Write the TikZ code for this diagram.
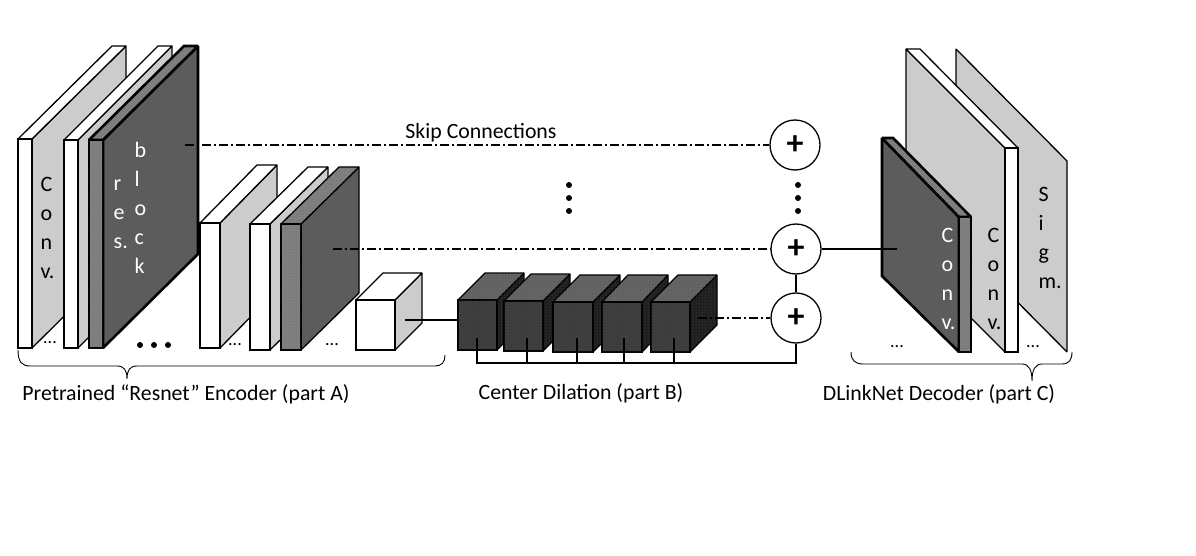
\documentclass[tikz,border=0pt]{standalone}
\usepackage{fontspec}
\setmainfont{Carlito}
\usetikzlibrary{patterns}

\definecolor{lightface}{HTML}{CCCCCC}
\definecolor{midface}{HTML}{808080}
\definecolor{darkface}{HTML}{5C5C5C}
\definecolor{cubeface}{HTML}{3C3C3C}
\definecolor{cubefleck}{HTML}{585858}

\tikzset{
	whiteface/.style={draw=black, fill=white},
	greyface/.style={draw=black, fill=lightface},
	midtone/.style={draw=black, fill=midface, postaction={pattern=dots, pattern color=darkface!70!midface}},
	darktone/.style={draw=black, fill=darkface},
	cubefront/.style={draw=black, fill=cubeface, postaction={pattern=dots, pattern color=cubefleck}},
	cubetop/.style={draw=black, fill=darkface!85!midface, postaction={pattern=dots, pattern color=midface}},
	cubeside/.style={draw=black, fill=cubeface!50!black, postaction={pattern=dots, pattern color=cubefleck}},
	sumnode/.style={circle, draw=black, fill=white, minimum size=50pt, inner sep=0pt, font=\fontsize{34}{34}\selectfont\bfseries},
	skipline/.style={line width=1.3pt, dash pattern=on 9pt off 3pt on 2pt off 3pt},
	label/.style={font=\fontsize{21.8}{24}\selectfont},
	letters/.style={align=left, anchor=west, inner sep=0pt, font=\fontsize{22}{29}\selectfont},
	tinydots/.style={font=\fontsize{18}{18}\selectfont}
}

% front x1 x2, ytop, ybot, back right corner, then the three faces
\newcommand{\layer}[9]{
	\pgfmathsetmacro{\bl}{#5-(#2-#1)}
	\pgfmathsetmacro{\bb}{#4+#6-#3}
	\draw[#9, miter limit=2] (#2,#3) -- (#5,#6) -- (#5,\bb) -- (#2,#4) -- cycle;
	\draw[#8, miter limit=2] (#1,#3) -- (\bl,#6) -- (#5,#6) -- (#2,#3) -- cycle;
	\draw[#7, miter limit=2] (#1,#3) rectangle (#2,#4);
}

\begin{document}
\begin{tikzpicture}[x=1pt, y=-1pt, line width=1.3pt]

	\useasboundingbox (0,0) rectangle (1196,556);

	% part A
	\layer{18}{32}{139}{348}{126}{46}{whiteface}{whiteface}{greyface}
	\layer{64}{78}{140}{348}{172}{46}{whiteface}{whiteface}{greyface}
	\begin{scope}[line width=2.6pt]
		\layer{89}{103}{140}{348}{198}{46}{midtone}{midtone}{darktone}
	\end{scope}
	\layer{200}{220}{223}{348}{277}{165}{whiteface}{whiteface}{greyface}
	\layer{250}{270}{224}{350}{328}{167}{whiteface}{whiteface}{greyface}
	\layer{281}{301}{224}{350}{359}{167}{midtone}{midtone}{darktone}
	\layer{356}{395}{300}{350}{422}{273}{whiteface}{whiteface}{greyface}

	% part B
	\layer{458}{497}{300}{350}{524}{273}{cubefront}{cubetop}{cubeside}
	\layer{504}{543}{301}{351}{570}{274}{cubefront}{cubetop}{cubeside}
	\layer{553}{593}{302}{352}{620}{275}{cubefront}{cubetop}{cubeside}
	\layer{602}{642}{302}{352}{668}{275}{cubefront}{cubetop}{cubeside}
	\layer{651}{690}{302}{352}{717}{275}{cubefront}{cubetop}{cubeside}

	% part C
	\draw[greyface, miter limit=2] (956,49) -- (1067,161) -- (1067,352) -- (956,240) -- cycle;
	\draw[greyface, miter limit=2] (906,49) -- (1005,148) -- (1005,352) -- (906,253) -- cycle;
	\draw[whiteface, miter limit=2] (906,49) -- (920,49) -- (1018,148) -- (1005,148) -- cycle;
	\draw[whiteface] (1005,148) rectangle (1018,352);
	\begin{scope}[line width=2.6pt]
		\draw[darktone, miter limit=2] (882,138) -- (959,217) -- (959,352) -- (882,276) -- cycle;
		\draw[midtone, miter limit=2] (882,138) -- (893,138) -- (971,217) -- (959,217) -- cycle;
		\draw[midtone] (959,217) rectangle (971,352);
	\end{scope}

	\node[sumnode] (sumA) at (795,145) {\raisebox{-4.5pt}{+}};
	\node[sumnode] (sumB) at (796,249) {\raisebox{-4.5pt}{+}};
	\node[sumnode] (sumC) at (796,318) {\raisebox{-4.5pt}{+}};

	\coordinate (skipA) at (185,145);
	\coordinate (skipB) at (333,249);
	\coordinate (skipC) at (698,318);
	\coordinate (whitecube) at (405,320);
	\coordinate (dilA) at (458,320);
	\coordinate (outconv) at (897,249);
	\coordinate (busend) at (477,363);
	\coordinate (tapA) at (477,338);
	\coordinate (tapB) at (527,338);
	\coordinate (tapC) at (577,338);
	\coordinate (tapD) at (624,338);
	\coordinate (tapE) at (674,338);

	\draw[skipline] (skipA) -- (sumA);
	\draw[skipline] (skipB) -- (sumB);
	\draw[skipline] (skipC) -- (sumC);
	\draw (whitecube) -- (dilA);
	\draw (sumB) -- (outconv);
	\draw (sumB) -- (sumC);
	\draw (sumC) |- (busend) -- (tapA);
	\foreach \t in {tapB, tapC, tapD, tapE}
		\draw (\t) -- (\t |- busend);

	\foreach \y in {185, 198, 211} {
		\fill[black] (569,\y) circle(3);
		\fill[black] (798,\y) circle(3);
	}
	\foreach \x in {140, 154, 168}
		\fill[black] (\x,345) circle(3);

	% braces
	\draw[line width=0.9pt] (18,350) .. controls (18,362) and (22,366) .. (30,366) -- (117,366) .. controls (124,366) and (127,370) .. (127,379) .. controls (127,370) and (130,366) .. (137,366) -- (435,366) .. controls (442,366) and (445,362) .. (445,355);
	\draw[line width=0.9pt] (851,352) .. controls (851,360) and (855,364) .. (863,364) -- (1022,364) .. controls (1029,364) and (1032,370) .. (1032,381) .. controls (1032,370) and (1035,364) .. (1042,364) -- (1062,364) .. controls (1069,364) and (1072,360) .. (1072,352);

	\node[letters] (convA) at (40,228) {C\\o\\n\\v.};
	\node[letters, text=white] (resA) at (113,214) {r\\e\\s.};
	\node[letters, text=white] (blockA) at (134,208) {b\\l\\o\\c\\k};
	\node[letters, text=white] (convB) at (941,279) {C\\o\\n\\v.};
	\node[letters] (convC) at (987,279) {C\\o\\n\\v.};
	\node[letters] (sigmA) at (1038,238) {S\\i\\g\\m.};

	\node[tinydots] (moreA) at (50,343) {...};
	\node[tinydots] (moreB) at (235,345) {...};
	\node[tinydots] (moreC) at (332,345) {...};
	\node[tinydots] (moreD) at (897,347) {...};
	\node[tinydots] (moreE) at (1033,347) {...};

	\node[label] (skiplabel) at (481,133) {Skip Connections};
	\node[label] (partA) at (186,394) {Pretrained “Resnet” Encoder (part A)};
	\node[label] (partB) at (581,393) {Center Dilation (part B)};
	\node[label] (partC) at (939,394) {DLinkNet Decoder (part C)};

\end{tikzpicture}
\end{document}
